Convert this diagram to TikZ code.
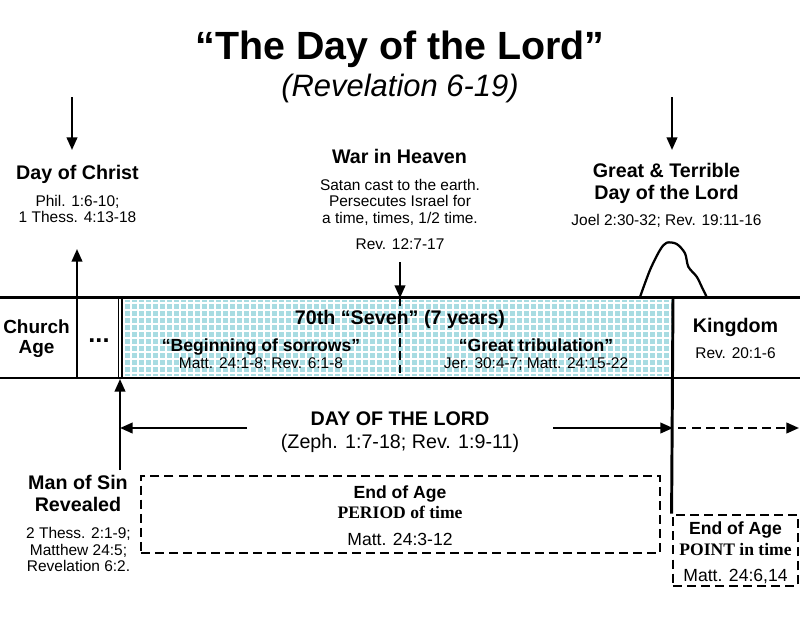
\documentclass[tikz,border=0pt]{standalone}
\usepackage{fontspec}
\setmainfont{Liberation Sans}
\newfontfamily\periodfont{Liberation Serif}
\usetikzlibrary{arrows.meta,positioning}
\definecolor{checkcyan}{RGB}{168,220,226}
\begin{document}
\begin{tikzpicture}[x=0.025cm,y=-0.025cm,
	every node/.style={inner sep=0,anchor=base,align=center},
	head/.style={font=\fontsize{14}{15.6}\selectfont\bfseries},
	refs/.style={font=\fontsize{11}{11.7}\selectfont},
	sub/.style={font=\fontsize{12.5}{13}\selectfont\bfseries},
	band/.style={line width=2.1pt},
	arr/.style={line width=1.6pt,-{Triangle[length=9pt,width=7.5pt]}},
	dashbox/.style={draw,line width=2pt,dash pattern=on 6.4pt off 3.6pt}]
\useasboundingbox (0,0) rectangle (800,618);
% title
\node[font=\fontsize{28}{30}\selectfont\bfseries] (title) at (400,59) {“The Day of the Lord”};
\node[font=\fontsize{22}{24}\selectfont\itshape] (rev) at (400,96.5) {(Revelation 6-19)};
% the seven years
\fill[checkcyan] (121,300) rectangle (673,376);
\begin{scope}
\clip (121,300) rectangle (673,376);
\foreach \x in {124,131,...,673} \draw[white,line width=1.3pt] (\x,300) -- (\x,376);
\foreach \y in {303,310,...,376} \draw[white,line width=1.3pt] (121,\y) -- (673,\y);
\end{scope}
\draw[band] (0,297.5) -- (800,297.5);
\draw[band] (0,378) -- (800,378);
\draw[line width=0.6pt] (118.5,299) -- (118.5,377);
\draw[line width=1.6pt] (122,297) -- (122,378);
% points on the line
\coordinate (christtop) at (72,97);
\coordinate (christtip) at (72,150);
\coordinate (churchfoot) at (77,378);
\coordinate (churchtip) at (77,249);
\coordinate (warfoot) at (400,262);
\coordinate (wartip) at (400,298);
\coordinate (gttop) at (672,97);
\coordinate (gttip) at (672,150);
\coordinate (kingtop) at (673,297);
\coordinate (lordleft) at (120,428);
\coordinate (lordright) at (673,428);
\coordinate (lordend) at (799,428);
\coordinate (sinfoot) at (120,470);
\coordinate (sintip) at (120,379);
% above the line
\node[head] (christ) at (77.5,179) {Day of Christ};
\node[refs] (christref) at (77.5,222.7) {Phil. 1:6-10;\\1 Thess. 4:13-18};
\node[head] (war) at (399.5,163.3) {War in Heaven};
\node[refs] (warref) at (400,223) {Satan cast to the earth.\\Persecutes Israel for\\a time, times, 1/2 time.};
\node[refs] (warrev) at (400,249) {Rev. 12:7-17};
\node[head] (gt) at (666.5,199) {Great \& Terrible\\Day of the Lord};
\node[refs] (gtref) at (666.5,225) {Joel 2:30-32; Rev. 19:11-16};
\draw[line width=1.6pt] plot[smooth] coordinates {(640,297) (650,270) (660,250) (666.7,242.7) (676.7,244) (685,253.3) (688.3,266.7) (696.7,276.7) (701.7,286.7) (706.7,297)};
% on the line
\node[font=\fontsize{13.5}{14.2}\selectfont\bfseries] (church) at (36.5,353) {Church\\Age};
\node[font=\fontsize{18}{18}\selectfont\bfseries] (dots) at (99,342) {...};
\node[head] (seventy) at (400,324) {70th “Seven” (7 years)};
\node[sub] (sorrows) at (261,351) {“Beginning of sorrows”};
\node[refs] (sorrowsref) at (261,368) {Matt. 24:1-8; Rev. 6:1-8};
\node[sub] (trib) at (536,351) {“Great tribulation”};
\node[refs] (tribref) at (536,368) {Jer. 30:4-7; Matt. 24:15-22};
\node[head] (kingdom) at (735.5,332.7) {Kingdom};
\node[refs] (kingref) at (735.5,358) {Rev. 20:1-6};
\draw[line width=2pt,dash pattern=on 6pt off 3.5pt] (wartip) -- (400,378);
% below the line
\node[head] (lord) at (400,425) {DAY OF THE LORD};
\node[font=\fontsize{14}{15}\selectfont] (zeph) at (400,448) {(Zeph. 1:7-18; Rev. 1:9-11)};
\node[head] (sin) at (78,511) {Man of Sin\\Revealed};
\node[refs] (sinref) at (78.5,571.7) {2 Thess. 2:1-9;\\Matthew 24:5;\\Revelation 6:2.};
\node[dashbox,anchor=center,minimum width=12.975cm,minimum height=1.925cm] (periodbox) at (400.5,514.5) {};
\node[sub] (periodage) at (400,498) {End of Age};
\node[sub,font=\periodfont\fontsize{12.5}{13}\selectfont\bfseries] (period) at (400,518) {PERIOD of time};
\node[font=\fontsize{12.5}{13}\selectfont] (periodref) at (400,545) {Matt. 24:3-12};
\node[dashbox,anchor=center,minimum width=3.125cm,minimum height=1.775cm] (pointbox) at (735.5,550.5) {};
\node[sub] (pointage) at (735.5,534) {End of Age};
\node[sub,font=\periodfont\fontsize{12.5}{13}\selectfont\bfseries] (point) at (735.5,555) {POINT in time};
\node[font=\fontsize{12.5}{13}\selectfont] (pointref) at (735.5,581) {Matt. 24:6,14};
% arrows
\draw[arr] (christtop) -- (christtip);
\draw[arr] (churchfoot) -- (churchtip);
\draw[arr] (warfoot) -- (wartip);
\draw[arr] (gttop) -- (gttip);
\draw[band] (kingtop) -- (pointbox.north west);
\draw[arr] (247,428) -- (lordleft);
\draw[arr] (553,428) -- (lordright);
\draw[arr,dash pattern=on 6pt off 4pt] (678,428) -- (lordend);
\draw[arr] (sinfoot) -- (sintip);
\end{tikzpicture}
\end{document}
